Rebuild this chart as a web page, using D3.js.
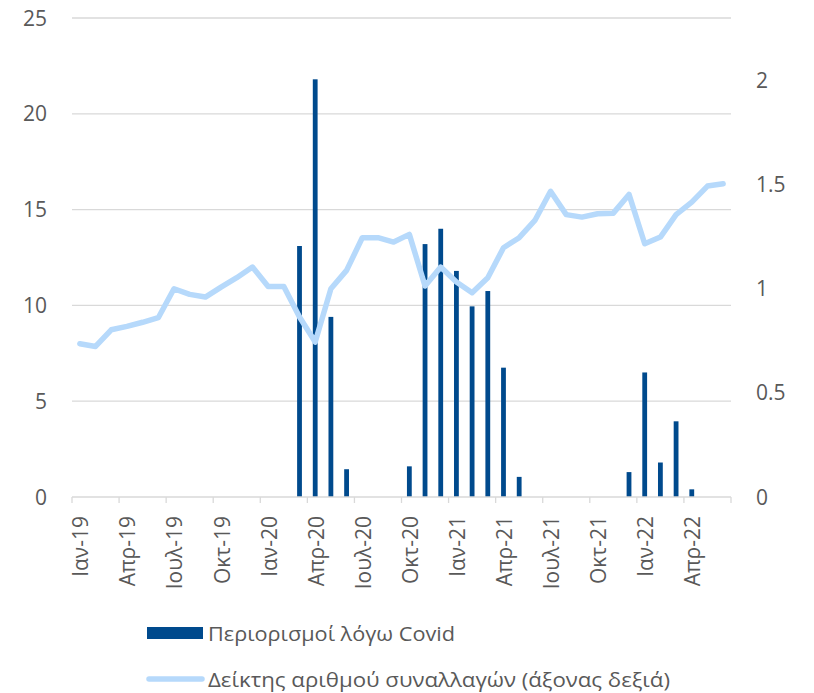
<!DOCTYPE html>
<head>
    <meta charset="utf-8">
    <script src="https://d3js.org/d3.v7.min.js"></script>
</head>
<style>
    body { margin: 0; background: #fff; }
    text { font-family: "Open Sans", sans-serif; fill: #595959; }
</style>
<body>
    <div id="chart"></div>
</body>

<script>
    // months Jan-19 .. Jun-22
    const months = ["Ιαν-19","Φεβ-19","Μαρ-19","Απρ-19","Μαϊ-19","Ιουν-19","Ιουλ-19","Αυγ-19","Σεπ-19","Οκτ-19","Νοε-19","Δεκ-19",
        "Ιαν-20","Φεβ-20","Μαρ-20","Απρ-20","Μαϊ-20","Ιουν-20","Ιουλ-20","Αυγ-20","Σεπ-20","Οκτ-20","Νοε-20","Δεκ-20",
        "Ιαν-21","Φεβ-21","Μαρ-21","Απρ-21","Μαϊ-21","Ιουν-21","Ιουλ-21","Αυγ-21","Σεπ-21","Οκτ-21","Νοε-21","Δεκ-21",
        "Ιαν-22","Φεβ-22","Μαρ-22","Απρ-22","Μαϊ-22","Ιουν-22"];

    // restrictions (left axis)
    const covid = [0,0,0,0,0,0,0,0,0,0,0,0,
        0,0,13.1,21.8,9.4,1.45,0,0,0,1.6,13.2,14.0,
        11.8,9.95,10.75,6.75,1.05,0,0,0,0,0,0,1.3,
        6.5,1.8,3.95,0.4,0,0];

    // transactions index (right axis)
    const index = [0.736,0.723,0.803,0.819,0.839,0.861,1.0,0.973,0.96,1.008,1.053,1.104,
        1.011,1.011,0.864,0.744,1.0,1.088,1.245,1.245,1.224,1.261,1.013,1.104,
        1.032,0.981,1.053,1.197,1.245,1.328,1.468,1.356,1.344,1.36,1.363,1.453,
        1.216,1.248,1.356,1.416,1.493,1.504];

    const shownLabels = ["Ιαν-19","Απρ-19","Ιουλ-19","Οκτ-19","Ιαν-20","Απρ-20","Ιουλ-20","Οκτ-20",
        "Ιαν-21","Απρ-21","Ιουλ-21","Οκτ-21","Ιαν-22","Απρ-22"];
    const leftTicks = [0, 5, 10, 15, 20, 25];
    const rightTicks = [0, 0.5, 1, 1.5, 2];
    const seriesNames = ["Περιορισμοί λόγω Covid", "Δείκτης αριθμού συναλλαγών (άξονας δεξιά)"];

    const W = 814, H = 693;
    const margin = {top: 18, right: 83, bottom: 196, left: 72};
    const width = W - margin.left - margin.right,
        height = H - margin.top - margin.bottom;

    const svg = d3.select("#chart").append("svg")
        .attr("width", W).attr("height", H);
    const g = svg.append("g")
        .attr("transform", `translate(${margin.left},${margin.top})`);

    const x = d3.scaleBand().domain(months).range([0, width]);
    const yL = d3.scaleLinear().domain([0, 25]).range([height, 0]);
    const yR = d3.scaleLinear().domain([0, 2.3]).range([height, 0]);

    // gridlines
    g.selectAll(".grid").data(leftTicks.slice(1)).join("line")
        .attr("x1", 0).attr("x2", width)
        .attr("y1", d => yL(d)).attr("y2", d => yL(d))
        .attr("stroke", "#d9d9d9").attr("stroke-width", 1.3);

    // bars
    const barW = 4.8;
    g.selectAll(".bar").data(months.map((m, i) => ({m, v: covid[i]})).filter(d => d.v > 0)).join("rect")
        .attr("x", d => x(d.m) + x.bandwidth() / 2 - barW / 2)
        .attr("y", d => yL(d.v))
        .attr("width", barW)
        .attr("height", d => height - yL(d.v))
        .attr("fill", "#004a8d");

    // line
    const line = d3.line()
        .x((d, i) => x(months[i]) + x.bandwidth() / 2)
        .y(d => yR(d));
    g.append("path").datum(index)
        .attr("d", line)
        .attr("fill", "none")
        .attr("stroke", "#b6d9fb")
        .attr("stroke-width", 5.5)
        .attr("stroke-linejoin", "round")
        .attr("stroke-linecap", "round");

    // x axis
    g.append("line")
        .attr("x1", 0).attr("x2", width)
        .attr("y1", height).attr("y2", height)
        .attr("stroke", "#d9d9d9").attr("stroke-width", 1.3);
    const tickIdx = d3.range(0, months.length + 1, 3);
    g.selectAll(".xtick").data(tickIdx).join("line")
        .attr("x1", d => d * x.step()).attr("x2", d => d * x.step())
        .attr("y1", height).attr("y2", height + 6)
        .attr("stroke", "#d9d9d9").attr("stroke-width", 1.3);
    g.selectAll(".xlab").data(shownLabels).join("text")
        .attr("transform", d => `translate(${x(d) + x.bandwidth() / 2 + 8.5},${height + 19}) rotate(-90)`)
        .attr("text-anchor", "end")
        .style("font-size", "21px")
        .text(d => d);

    // left axis labels
    g.selectAll(".ylab").data(leftTicks).join("text")
        .attr("x", -25).attr("y", d => yL(d) + 7.5)
        .attr("text-anchor", "end")
        .style("font-size", "21px")
        .text(d => d);

    // right axis labels
    g.selectAll(".yrlab").data(rightTicks).join("text")
        .attr("x", width + 25).attr("y", d => yR(d) + 7.5)
        .attr("text-anchor", "start")
        .style("font-size", "21px")
        .text(d => d);

    // legend
    const lg = svg.append("g");
    lg.append("rect").attr("x", 147).attr("y", 627).attr("width", 56).attr("height", 12).attr("fill", "#004a8d");
    lg.append("text").attr("x", 208).attr("y", 641).style("font-size", "20.5px")
        .attr("textLength", 247).attr("lengthAdjust", "spacingAndGlyphs").text(seriesNames[0]);
    lg.append("line").attr("x1", 149).attr("x2", 202).attr("y1", 679).attr("y2", 679)
        .attr("stroke", "#b6d9fb").attr("stroke-width", 5.5).attr("stroke-linecap", "round");
    lg.append("text").attr("x", 208).attr("y", 687).style("font-size", "20.5px")
        .attr("textLength", 462).attr("lengthAdjust", "spacingAndGlyphs").text(seriesNames[1]);
</script>
